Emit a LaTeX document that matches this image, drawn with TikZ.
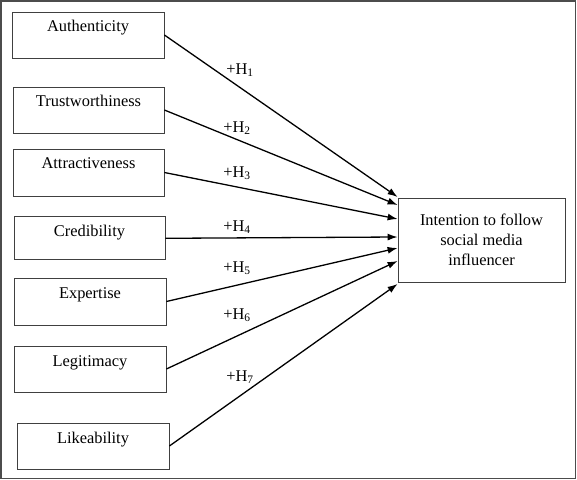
\documentclass[tikz,border=0pt]{standalone}
\usepackage{fontspec}
\setmainfont{Liberation Serif}
\usetikzlibrary{arrows.meta,calc}
\begin{document}
\begin{tikzpicture}[x=1bp,y=-1bp,
  every node/.style={font=\fontsize{16.4bp}{20bp}\selectfont},
  srcbox/.style={draw=black!75, line width=0.8bp, inner ysep=0pt, inner xsep=0pt,
    text height=20bp, minimum width=#1},
  tgtbox/.style={draw=black!75, line width=0.8bp, minimum width=167bp, minimum height=84bp, align=center, inner sep=0pt},
  link/.style={line width=1.3bp, -{Latex[length=10bp,width=7bp]}},
  hyp/.style={inner sep=0pt}
]
\useasboundingbox (0,0) rectangle (577,480);
\draw[black!70, line width=1.5bp] (1,1) rectangle (575.5,478.5);

\node[srcbox=152bp, text depth=26bp] (A) at (88,35) {Authenticity};
\node[srcbox=151bp, text depth=26bp] (T) at (88.5,110) {Trustworthiness};
\node[srcbox=151bp, text depth=27bp] (At) at (88.5,172.5) {Attractiveness};
\node[srcbox=151bp, text depth=23bp] (C) at (89.5,238.3) {Credibility};
\node[srcbox=152bp, text depth=27bp] (E) at (90,301.5) {Expertise};
\node[srcbox=152bp, text depth=26bp] (L) at (90,369) {Legitimacy};
\node[srcbox=152bp, text depth=26bp] (K) at (93,446) {Likeability};

\node[tgtbox] (I) at (481.5,240) {Intention to follow\\social media\\influencer};

\coordinate (e1) at ($(I.west)+(0,-43)$);
\coordinate (e2) at ($(I.west)+(0,-35)$);
\coordinate (e3) at ($(I.west)+(0,-21)$);
\coordinate (e4) at ($(I.west)+(0,-3)$);
\coordinate (e5) at ($(I.west)+(0,8)$);
\coordinate (e6) at ($(I.west)+(0,21)$);
\coordinate (e7) at ($(I.west)+(0,44)$);

\draw[link] (A.east) -- (e1);
\draw[link] (T.east) -- (e2);
\draw[link] (At.east) -- (e3);
\draw[link] (C.east) -- (e4);
\draw[link] (E.east) -- (e5);
\draw[link] (L.east) -- (e6);
\draw[link] (K.east) -- (e7);

\node[hyp] (h1) at (240,70) {+H\textsubscript{1}};
\node[hyp] (h2) at (237,128) {+H\textsubscript{2}};
\node[hyp] (h3) at (237,173) {+H\textsubscript{3}};
\node[hyp] (h4) at (237,227) {+H\textsubscript{4}};
\node[hyp] (h5) at (237,268) {+H\textsubscript{5}};
\node[hyp] (h6) at (237,315) {+H\textsubscript{6}};
\node[hyp] (h7) at (240,377) {+H\textsubscript{7}};
\end{tikzpicture}
\end{document}
